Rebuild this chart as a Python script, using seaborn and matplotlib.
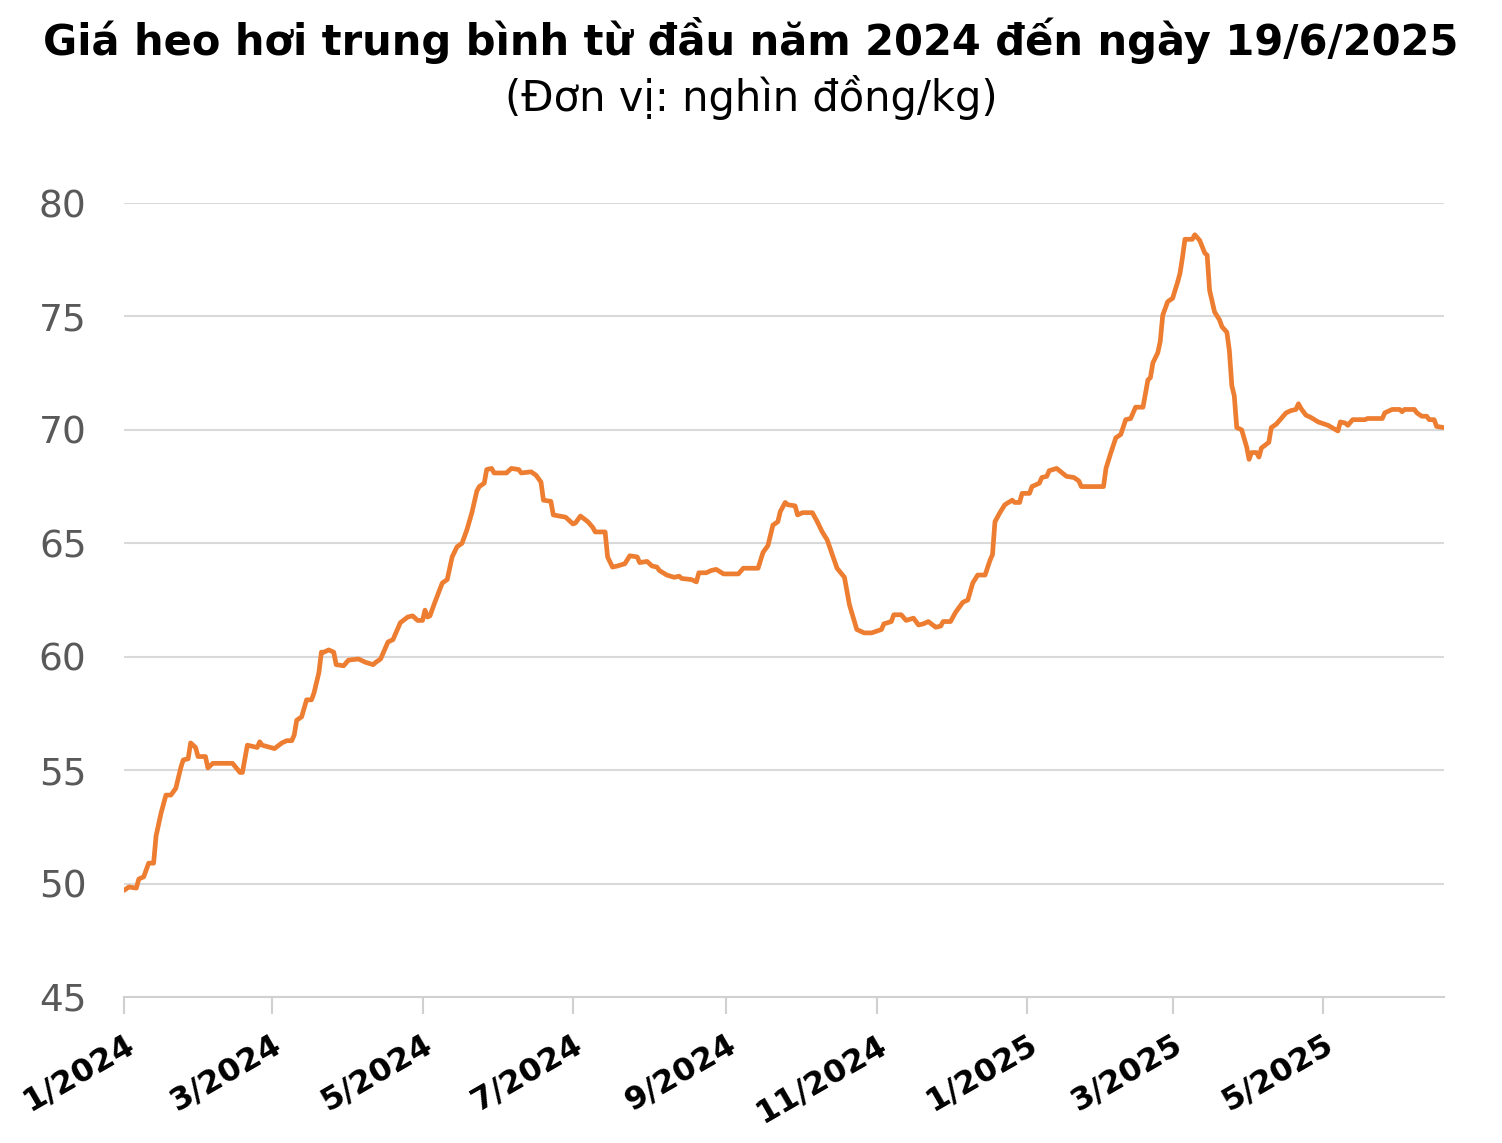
import numpy as np
import pandas as pd
import matplotlib
matplotlib.use("Agg")
import matplotlib.pyplot as plt
import matplotlib.dates as mdates
import seaborn as sns

# Days since 1/1/2024 and average live-hog price (thousand VND/kg)
day_offsets = [0, 2, 5, 6, 8, 10, 12, 13, 15, 17, 19, 21, 23, 24, 26, 27, 29, 30, 33, 34,
               36, 44, 47, 48, 50, 54, 55, 56, 61, 64, 66, 68, 69, 70, 72, 74, 76, 77, 79, 80,
               81, 83, 85, 86, 89, 91, 95, 98, 101, 102, 104, 106, 107, 109, 112, 115, 117, 119, 121, 122,
               123, 124, 126, 129, 131, 133, 135, 137, 139, 141, 143, 144, 146, 147, 149, 150, 155, 157, 160, 161,
               165, 167, 169, 170, 173, 174, 179, 182, 183, 185, 188, 190, 191, 195, 196, 198, 200, 203, 205, 208,
               209, 212, 214, 216, 217, 220, 223, 225, 226, 230, 232, 233, 236, 238, 240, 243, 249, 251, 257, 259,
               261, 263, 265, 266, 268, 269, 272, 273, 275, 279, 281, 283, 285, 289, 292, 294, 297, 300, 303, 307,
               308, 311, 312, 315, 317, 320, 322, 324, 326, 329, 331, 332, 335, 337, 340, 342, 344, 346, 349, 351,
               352, 353, 355, 357, 360, 361, 363, 364, 367, 368, 371, 372, 374, 375, 378, 382, 385, 387, 388, 397,
               398, 400, 402, 404, 406, 408, 410, 413, 415, 416, 417, 419, 420, 421, 423, 425, 427, 428, 429, 430,
               433, 434, 436, 438, 439, 440, 442, 444, 445, 447, 448, 449, 450, 451, 453, 455, 456, 457, 459, 460,
               461, 464, 465, 467, 469, 471, 473, 475, 476, 477, 479, 481, 484, 488, 492, 493, 495, 496, 498, 503,
               504, 510, 511, 514, 517, 518, 519, 523, 524, 526, 528, 529, 531, 532, 535]
prices = [49.7, 49.85, 49.8, 50.2, 50.3, 50.9, 50.9, 52.1, 53.1, 53.9, 53.9, 54.2, 55.1, 55.45, 55.5, 56.2, 56.0, 55.6, 55.6, 55.1,
          55.3, 55.3, 54.9, 54.9, 56.1, 56.0, 56.25, 56.1, 55.95, 56.2, 56.3, 56.3, 56.55, 57.2, 57.35, 58.1, 58.1, 58.4, 59.3, 60.2,
          60.2, 60.3, 60.2, 59.65, 59.6, 59.85, 59.9, 59.75, 59.65, 59.75, 59.9, 60.4, 60.65, 60.75, 61.5, 61.75, 61.8, 61.6, 61.6, 62.05,
          61.75, 61.8, 62.4, 63.25, 63.4, 64.4, 64.85, 65.0, 65.6, 66.35, 67.3, 67.5, 67.65, 68.25, 68.3, 68.1, 68.1, 68.3, 68.25, 68.1,
          68.15, 68.0, 67.7, 66.9, 66.85, 66.25, 66.15, 65.85, 65.9, 66.2, 65.95, 65.7, 65.5, 65.5, 64.4, 63.95, 64.0, 64.1, 64.45, 64.4,
          64.15, 64.2, 64.0, 63.95, 63.8, 63.6, 63.5, 63.55, 63.45, 63.4, 63.3, 63.7, 63.7, 63.8, 63.85, 63.65, 63.65, 63.9, 63.9, 64.6,
          64.9, 65.8, 65.95, 66.4, 66.8, 66.7, 66.65, 66.25, 66.35, 66.35, 65.95, 65.5, 65.15, 63.9, 63.5, 62.3, 61.2, 61.05, 61.05, 61.2,
          61.45, 61.55, 61.85, 61.85, 61.6, 61.7, 61.4, 61.45, 61.55, 61.3, 61.35, 61.55, 61.55, 61.95, 62.4, 62.5, 63.25, 63.6, 63.6, 64.25,
          64.5, 65.95, 66.35, 66.7, 66.9, 66.8, 66.8, 67.2, 67.2, 67.5, 67.65, 67.9, 67.95, 68.2, 68.3, 67.95, 67.9, 67.75, 67.5, 67.5,
          68.3, 69.0, 69.65, 69.8, 70.45, 70.5, 71.0, 71.0, 72.2, 72.3, 72.95, 73.4, 73.9, 75.05, 75.65, 75.8, 76.5, 76.9, 77.6, 78.4,
          78.4, 78.6, 78.35, 77.8, 77.7, 76.15, 75.2, 74.85, 74.55, 74.3, 73.5, 71.95, 71.5, 70.1, 70.0, 69.25, 68.7, 69.0, 69.0, 68.8,
          69.2, 69.45, 70.1, 70.25, 70.5, 70.75, 70.85, 70.9, 71.15, 70.95, 70.65, 70.55, 70.35, 70.2, 69.95, 70.35, 70.3, 70.2, 70.45, 70.45,
          70.5, 70.5, 70.75, 70.9, 70.9, 70.8, 70.9, 70.9, 70.75, 70.6, 70.6, 70.45, 70.45, 70.15, 70.1]

tick_dates = ["2024-01-01", "2024-03-01", "2024-05-01", "2024-07-01", "2024-09-01",
              "2024-11-01", "2025-01-01", "2025-03-01", "2025-05-01"]
tick_labels = ["1/2024", "3/2024", "5/2024", "7/2024", "9/2024",
               "11/2024", "1/2025", "3/2025", "5/2025"]
y_ticks = [45, 50, 55, 60, 65, 70, 75, 80]

title = "Giá heo hơi trung bình từ đầu năm 2024 đến ngày 19/6/2025"
subtitle = "(Đơn vị: nghìn đồng/kg)"

start = pd.Timestamp("2024-01-01")
df = pd.DataFrame({
    "date": start + pd.to_timedelta(day_offsets, unit="D"),
    "price": prices,
})

sns.set_theme(style="white")
plt.rcParams["font.family"] = ["DejaVu Sans"]

fig = plt.figure(figsize=(15.02, 11.43), dpi=100)
ax = fig.add_axes([124 / 1502, 1 - 997 / 1143, (1444 - 124) / 1502, (997 - 203) / 1143])

sns.lineplot(data=df, x="date", y="price", ax=ax, color="#ED7D31", linewidth=3.4)

ax.set_xlim(pd.Timestamp("2024-01-01"), pd.Timestamp("2025-06-19"))
ax.set_ylim(45, 80)
ax.set_yticks(y_ticks)
ax.set_yticklabels([str(v) for v in y_ticks])
for v in y_ticks[1:]:
    ax.axhline(v, color="#d9d9d9", linewidth=1.5, zorder=0)

ax.set_xticks(pd.to_datetime(tick_dates))
ax.set_xticklabels(tick_labels, rotation=30, ha="right", rotation_mode="anchor",
                   fontsize=23, fontweight="bold", color="black")
ax.tick_params(axis="x", direction="out", length=12, width=1.5, color="#d0d0d0", pad=11, bottom=True)
ax.tick_params(axis="y", length=0, pad=27, labelsize=27, labelcolor="#595959")
for lbl in ax.get_yticklabels():
    lbl.set_horizontalalignment("right")

for s in ["top", "right", "left"]:
    ax.spines[s].set_visible(False)
ax.spines["bottom"].set_color("#d0d0d0")
ax.spines["bottom"].set_linewidth(1.5)
ax.set_xlabel("")
ax.set_ylabel("")
ax.grid(False)

fig.text(0.5, 1 - 40 / 1143, title, ha="center", va="center", fontsize=30,
         fontweight="bold", color="black")
fig.text(0.5, 1 - 97 / 1143, subtitle, ha="center", va="center", fontsize=30, color="black")

fig.savefig("out.png", dpi=100)
